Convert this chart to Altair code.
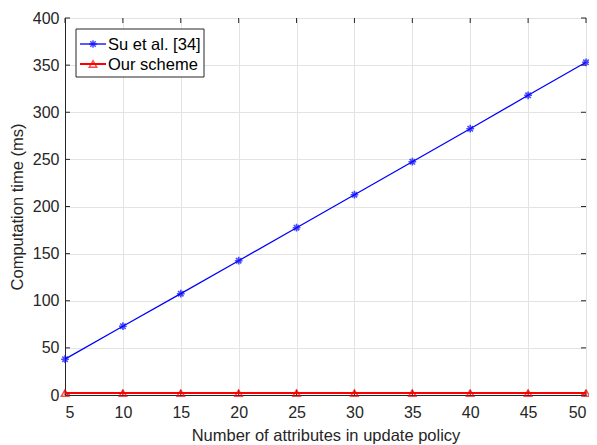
import altair as alt
import pandas as pd

attributes = [5, 10, 15, 20, 25, 30, 35, 40, 45, 50]
su_et_al = [38, 73, 107.5, 142.5, 177.5, 212.5, 247.5, 282.5, 318, 353]
our_scheme = [2, 2, 2, 2, 2, 2, 2, 2, 2, 2]
series_names = ["Su et al. [34]", "Our scheme"]
x_ticks = [5, 10, 15, 20, 25, 30, 35, 40, 45, 50]
y_ticks = [0, 50, 100, 150, 200, 250, 300, 350, 400]

W, H = 521, 377
FONT = "Liberation Sans"
AX = "#262626"
FS = 16

df_su = pd.DataFrame({"x": attributes, "y": su_et_al})
df_our = pd.DataFrame({"x": attributes, "y": our_scheme})

xs = alt.Scale(domain=[5, 50], nice=False, zero=False)
ys = alt.Scale(domain=[0, 400], nice=False)

xax = alt.Axis(values=x_ticks, title="Number of attributes in update policy", ticks=False,
               grid=True, labelPadding=9, titlePadding=7)
yax = alt.Axis(values=y_ticks, title="Computation time (ms)", ticks=False,
               grid=True, labelPadding=6, titlePadding=7)

ASTER = "M-1,0L1,0M0,-1L0,1M-0.7,-0.7L0.7,0.7M-0.7,0.7L0.7,-0.7"

base_su = alt.Chart(df_su)
su_line = base_su.mark_line(color="#0000ff", strokeWidth=1.3).encode(
    x=alt.X("x:Q", scale=xs, axis=xax), y=alt.Y("y:Q", scale=ys, axis=yax))
su_pts = base_su.mark_point(shape=ASTER, color="#0000ff", size=60, strokeWidth=1.6, filled=False).encode(
    x=alt.X("x:Q", scale=xs), y=alt.Y("y:Q", scale=ys))

base_our = alt.Chart(df_our)
our_line = base_our.mark_line(color="#ff0000", strokeWidth=2).encode(
    x=alt.X("x:Q", scale=xs), y=alt.Y("y:Q", scale=ys))
our_pts = base_our.mark_point(shape="triangle-up", color="#ff0000", size=55, strokeWidth=1.5, filled=False).encode(
    x=alt.X("x:Q", scale=xs), y=alt.Y("y:Q", scale=ys))

# inside ticks
tick_df_x = pd.DataFrame({"x": x_ticks})
tick_df_y = pd.DataFrame({"y": y_ticks})
xt_bot = alt.Chart(tick_df_x).mark_rule(color=AX, strokeWidth=1).encode(
    x=alt.X("x:Q", scale=xs), y=alt.value(H), y2=alt.value(H - 5))
xt_top = alt.Chart(tick_df_x).mark_rule(color=AX, strokeWidth=1).encode(
    x=alt.X("x:Q", scale=xs), y=alt.value(0), y2=alt.value(5))
yt_left = alt.Chart(tick_df_y).mark_rule(color=AX, strokeWidth=1).encode(
    y=alt.Y("y:Q", scale=ys), x=alt.value(0), x2=alt.value(5))
yt_right = alt.Chart(tick_df_y).mark_rule(color=AX, strokeWidth=1).encode(
    y=alt.Y("y:Q", scale=ys), x=alt.value(W), x2=alt.value(W - 5))

# legend
one = pd.DataFrame({"a": [0]})
leg_box = alt.Chart(one).mark_rect(fill="white", stroke=AX, strokeWidth=1).encode(
    x=alt.value(11), x2=alt.value(139), y=alt.value(11), y2=alt.value(59))
leg_layers = [leg_box]
rows = [(26, "#0000ff", ASTER, 60, 1.3, series_names[0]),
        (46, "#ff0000", "triangle-up", 55, 2, series_names[1])]
for yy, col, shp, sz, sw, name in rows:
    leg_layers.append(alt.Chart(one).mark_rule(color=col, strokeWidth=sw).encode(
        x=alt.value(15), x2=alt.value(41), y=alt.value(yy)))
    leg_layers.append(alt.Chart(one).mark_point(shape=shp, color=col, size=sz, strokeWidth=1.5, filled=False).encode(
        x=alt.value(28), y=alt.value(yy)))
    leg_layers.append(alt.Chart(pd.DataFrame({"t": [name]})).mark_text(
        align="left", baseline="middle", font=FONT, fontSize=16.5, color="#000000").encode(
        x=alt.value(43), y=alt.value(yy + 1), text="t:N"))

chart = alt.layer(
    xt_bot, xt_top, yt_left, yt_right,
    su_line, su_pts, our_line, our_pts,
    *leg_layers
).properties(
    width=W, height=H,
    autosize=alt.AutoSizeParams(type="none"),
    padding={"left": 57, "top": 10, "right": 3, "bottom": 50},
).configure_view(
    stroke=AX, strokeWidth=1
).configure_axis(
    domainColor=AX, labelColor=AX, titleColor=AX, gridColor="#e3e3e3",
    labelFont=FONT, titleFont=FONT, labelFontSize=FS, titleFontSize=16.5,
    titleFontWeight="normal", domain=True,
)

chart.save("out.html", embed_options={"renderer": "svg", "actions": False})
